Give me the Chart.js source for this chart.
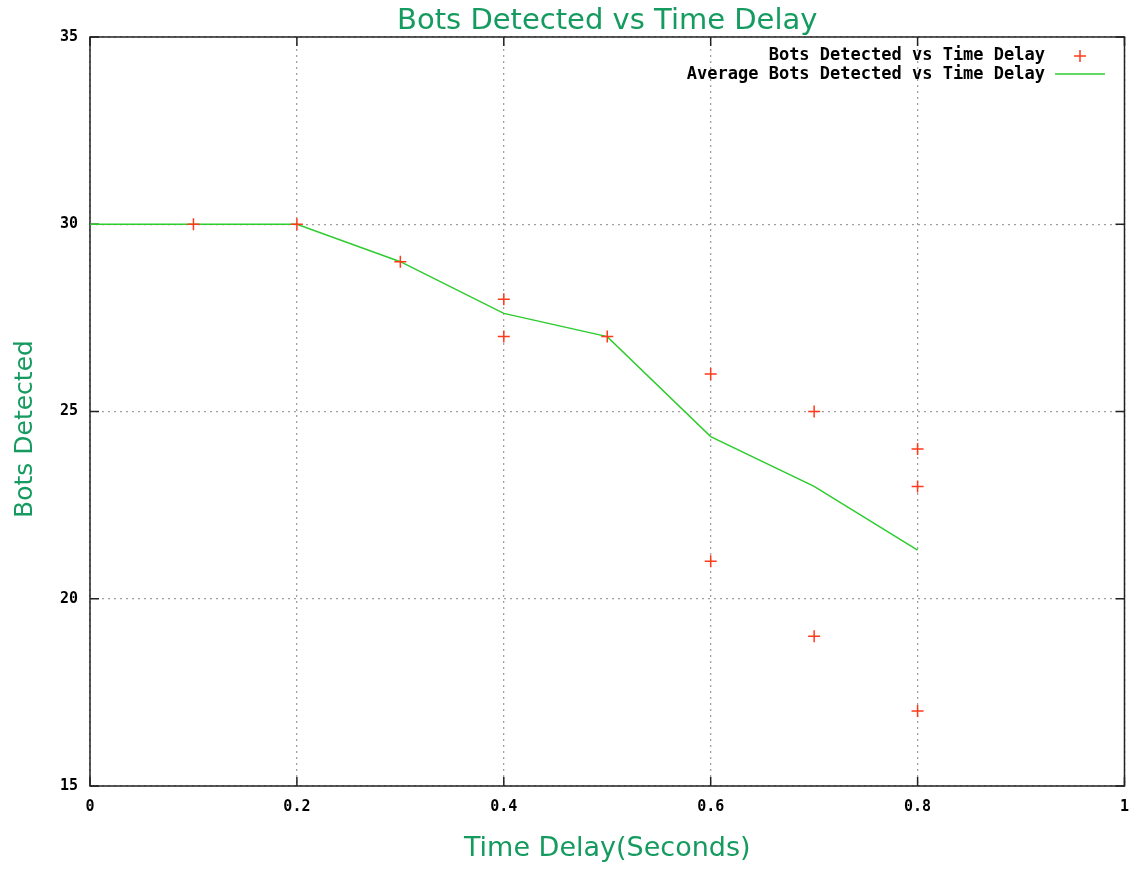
<!DOCTYPE html>
<html>
<head>
<meta charset="utf-8">
<script src="https://cdn.jsdelivr.net/npm/chart.js@4"></script>
<style>
  html, body { margin: 0; padding: 0; background: #fff; }
  #wrap { width: 1141px; height: 871px; }
</style>
</head>
<body>
<div id="wrap"><canvas id="botsChart" width="1141" height="871"></canvas></div>
<script>
// raw measurements
const delayX = [0.1, 0.2, 0.3, 0.4, 0.4, 0.5, 0.6, 0.6, 0.7, 0.7, 0.8, 0.8, 0.8];
const botsY  = [30, 30, 29, 28, 27, 27, 26, 21, 25, 19, 24, 23, 17];

// averaged curve
const avgX = [0, 0.1, 0.2, 0.3, 0.4, 0.5, 0.6, 0.7, 0.8];
const avgY = [30, 30, 30, 29, 27.62, 27, 24.33, 23, 21.3];

const xTicks = [0, 0.2, 0.4, 0.6, 0.8, 1];
const yTicks = [15, 20, 25, 30, 35];

const chartTitle = "Bots Detected vs Time Delay";
const titleGreen = "#159b5f";
const tickFont = { family: "DejaVu Sans Mono", size: 15, weight: "bold" };

// gnuplot style box, inward ticks, titles and legend
const gnuplotLook = {
    id: "gnuplotLook",
    beforeDatasetsDraw(chart) {
        const { ctx, chartArea: a, scales } = chart;
        ctx.save();
        ctx.strokeStyle = "#222";
        ctx.lineWidth = 1.5;
        ctx.strokeRect(a.left, a.top, a.right - a.left, a.bottom - a.top);

        ctx.beginPath();
        xTicks.forEach(v => {
            let px = scales.x.getPixelForValue(v);
            ctx.moveTo(px, a.bottom); ctx.lineTo(px, a.bottom - 9);
            ctx.moveTo(px, a.top); ctx.lineTo(px, a.top + 9);
        });
        yTicks.forEach(v => {
            let py = scales.y.getPixelForValue(v);
            ctx.moveTo(a.left, py); ctx.lineTo(a.left + 9, py);
            ctx.moveTo(a.right, py); ctx.lineTo(a.right - 9, py);
        });
        ctx.stroke();
        ctx.restore();
    },
    afterDraw(chart) {
        const { ctx, chartArea: a } = chart;
        ctx.save();
        ctx.fillStyle = titleGreen;
        ctx.textAlign = "center";
        ctx.textBaseline = "middle";

        // main title, centred over the plot
        ctx.font = "29px 'DejaVu Sans'";
        ctx.fillText(chartTitle, (a.left + a.right) / 2, 21);

        // y axis title
        ctx.font = "25px 'DejaVu Sans'";
        ctx.translate(25, 429);
        ctx.rotate(-Math.PI / 2);
        ctx.fillText("Bots Detected", 0, 0);
        ctx.restore();

        // legend
        ctx.save();
        ctx.font = "bold 17px 'DejaVu Sans Mono'";
        ctx.fillStyle = "#000";
        ctx.textAlign = "right";
        ctx.textBaseline = "middle";
        const ds = chart.data.datasets;
        ctx.fillText(ds[0].label, 1045, 56);
        ctx.fillText(ds[1].label, 1045, 75);

        ctx.strokeStyle = ds[0].borderColor;
        ctx.lineWidth = 1.5;
        ctx.beginPath();
        ctx.moveTo(1074, 56); ctx.lineTo(1086, 56);
        ctx.moveTo(1080, 50); ctx.lineTo(1080, 62);
        ctx.stroke();

        ctx.strokeStyle = ds[1].borderColor;
        ctx.beginPath();
        ctx.moveTo(1055, 74); ctx.lineTo(1105, 74);
        ctx.stroke();
        ctx.restore();
    }
};

const gridOpts = { color: "#a0a0a0", lineWidth: 1.3, drawTicks: false, borderDash: [2, 4] };

new Chart(document.getElementById("botsChart"), {
    type: "scatter",
    data: {
        datasets: [
            {
                label: "Bots Detected vs Time Delay",
                data: delayX.map((x, i) => ({ x: x, y: botsY[i] })),
                pointStyle: "cross",
                pointRadius: 6,
                pointBorderWidth: 1.5,
                borderColor: "#ff3a1a",
                backgroundColor: "#ff3a1a",
                showLine: false
            },
            {
                type: "line",
                label: "Average Bots Detected vs Time Delay",
                data: avgX.map((x, i) => ({ x: x, y: avgY[i] })),
                borderColor: "#2ecc2e",
                borderWidth: 1.5,
                pointRadius: 0,
                fill: false,
                tension: 0
            }
        ]
    },
    options: {
        responsive: false,
        animation: false,
        layout: { padding: { left: 0, right: 15, top: 37, bottom: 0 } },
        plugins: {
            legend: { display: false },
            tooltip: { enabled: false },
            title: { display: false }
        },
        scales: {
            x: {
                type: "linear",
                min: 0,
                max: 1,
                afterBuildTicks: s => { s.ticks = xTicks.map(v => ({ value: v })); },
                afterFit: s => { s.height = 85; },
                ticks: {
                    color: "#000",
                    font: tickFont,
                    padding: 12,
                    maxRotation: 0,
                    callback: v => String(v)
                },
                grid: gridOpts,
                border: { display: false, dash: [2, 4] },
                title: {
                    display: true,
                    text: "Time Delay(Seconds)",
                    color: titleGreen,
                    font: { family: "DejaVu Sans", size: 27 },
                    padding: { top: 0, bottom: 6 }
                }
            },
            y: {
                type: "linear",
                min: 15,
                max: 35,
                afterBuildTicks: s => { s.ticks = yTicks.map(v => ({ value: v })); },
                afterFit: s => { s.width = 90; },
                ticks: { color: "#000", font: tickFont, padding: 12 },
                grid: gridOpts,
                border: { display: false, dash: [2, 4] }
            }
        }
    },
    plugins: [gnuplotLook]
});
</script>
</body>
</html>
